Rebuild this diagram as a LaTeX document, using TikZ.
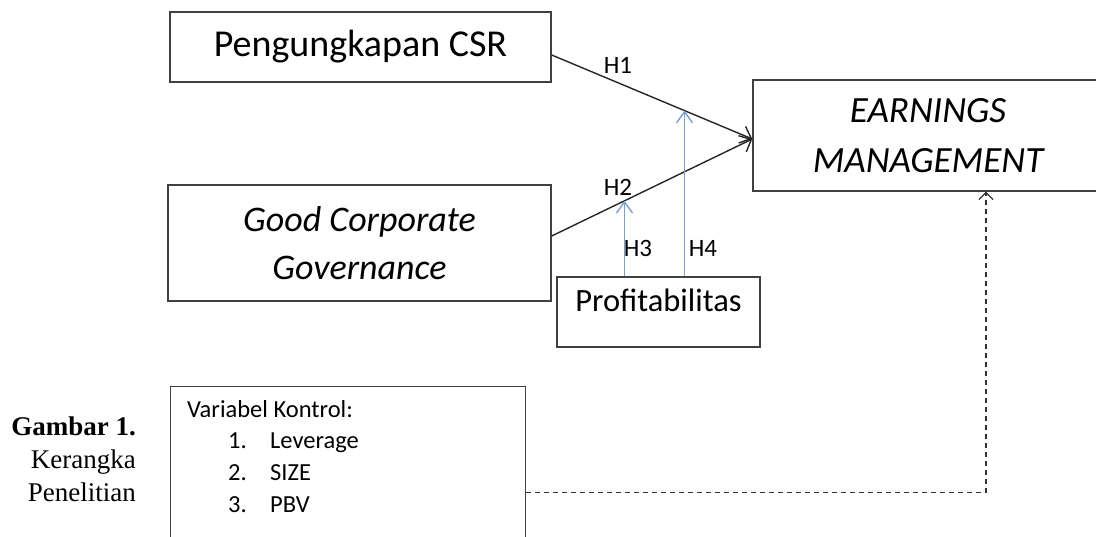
\documentclass[tikz,border=0pt]{standalone}
\usepackage{fontspec}
\setmainfont{Carlito}
\newfontfamily\capfont{Liberation Serif}
\usetikzlibrary{positioning, arrows.meta}
\definecolor{boxline}{HTML}{404040}
\definecolor{modblue}{HTML}{7BA0D4}
\definecolor{ctrlgray}{HTML}{333333}
\tikzstyle{varbox} = [draw=boxline, line width=1.4pt,
    rectangle, align=center, inner sep=0pt]
\tikzstyle{hyp} = [font=\fontsize{25}{25}\selectfont, inner sep=0pt]
\tikzstyle{mainarrow} = [line width=1.4pt, draw=black!85,
    -{Straight Barb[length=10pt,width=18pt]}]
\tikzstyle{modarrow} = [line width=1.4pt, draw=modblue,
    -{Straight Barb[length=11pt,width=16pt]}]
\tikzstyle{ctrlarrow} = [line width=1.2pt, draw=ctrlgray, dash pattern=on 5pt off 4pt,
    -{Straight Barb[length=7pt,width=14pt]}]

\begin{document}
\begin{tikzpicture}[x=1pt,y=-1pt]
	\useasboundingbox (0,0) rectangle (1096,537);

	% variabel
	\node [varbox, minimum width=381pt, minimum height=70pt,
		font=\fontsize{38}{44}\selectfont] (csr) at (360.5,47) {Pengungkapan CSR};
	\node [varbox, minimum width=383pt, minimum height=116pt,
		font=\fontsize{36}{48}\selectfont\itshape] (gcg) at (359.5,243) {Good Corporate\\Governance};
	\node [varbox, minimum width=350pt, minimum height=111pt,
		font=\fontsize{37}{50}\selectfont\itshape] (em) at (928,135.5) {EARNINGS\\MANAGEMENT};
	\node [varbox, minimum width=203pt, minimum height=70pt, text height=15pt, text depth=15pt,
		font=\fontsize{32.5}{38}\selectfont] (prof) at (658.5,312) {Profitabilitas};

	% kontrol
	\node [varbox, anchor=north west, minimum width=355pt, minimum height=160pt] (vk) at (170,386) {};
	\node [below right=14pt and 17pt of vk.north west, anchor=north west, align=left, inner sep=0pt,
		font=\fontsize{24.5}{31.7}\selectfont] (vklist) {%
		Variabel Kontrol:\\
		\hspace*{41pt}\makebox[42pt][l]{1.}Leverage\\
		\hspace*{41pt}\makebox[42pt][l]{2.}SIZE\\
		\hspace*{41pt}\makebox[42pt][l]{3.}PBV};

	% caption
	\node [anchor=north east, align=right, inner sep=0pt,
		font=\capfont\fontsize{27}{33}\selectfont] (cap) at (136,417) {%
		\textbf{Gambar 1.}\\Kerangka\\Penelitian};

	% hipotesis
	\draw[mainarrow] ([yshift=-8pt]csr.east) -- coordinate[pos=0.662] (h4top) ([yshift=-3.5pt]em.west);
	\draw[mainarrow] ([yshift=7pt]gcg.east) -- coordinate[pos=0.363] (h3top) ([yshift=-3.5pt]em.west);

	\draw[modarrow] (prof.north -| h3top) -- (h3top);
	\draw[modarrow] (prof.north -| h4top) -- (h4top);

	\node[hyp] (h1) at (618,65) {H1};
	\node[hyp] (h2) at (618,187) {H2};
	\node[hyp] (h3) at (638,248) {H3};
	\node[hyp] (h4) at (703,248) {H4};

	% kontrol -> EM
	\draw[ctrlarrow] ([yshift=-26pt]vk.east) -| ([xshift=58pt]em.south);
\end{tikzpicture}
\end{document}
